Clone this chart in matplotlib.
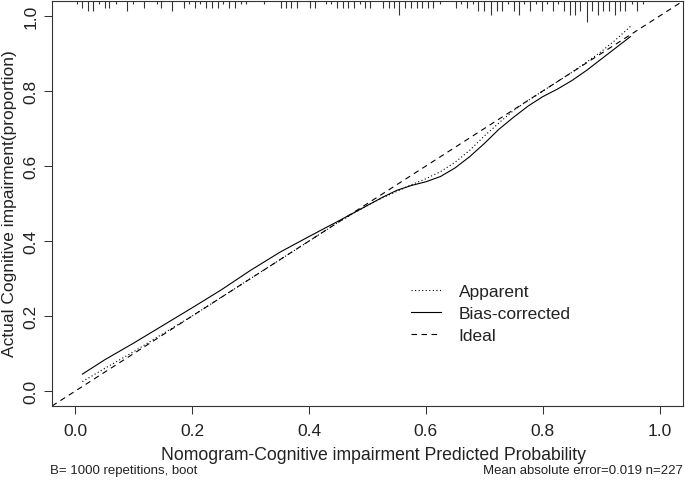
import matplotlib
matplotlib.use("Agg")
import matplotlib.pyplot as plt
import matplotlib.transforms as mtransforms

plt.rcParams['font.family'] = ['Liberation Sans', 'DejaVu Sans']

# ---- data ----
pred_x = [0.012, 0.05, 0.10, 0.15, 0.20, 0.25, 0.30, 0.35, 0.40, 0.45, 0.50,
          0.525, 0.55, 0.575, 0.60, 0.625, 0.65, 0.675, 0.70, 0.725, 0.75, 0.775,
          0.80, 0.825, 0.85, 0.875, 0.90, 0.925, 0.95]
apparent_y = [0.025, 0.060, 0.105, 0.153, 0.200, 0.250, 0.300, 0.350, 0.400, 0.450, 0.495,
              0.515, 0.532, 0.550, 0.566, 0.585, 0.610, 0.642, 0.680, 0.715, 0.748, 0.775,
              0.800, 0.825, 0.850, 0.877, 0.905, 0.937, 0.972]
bias_corrected_y = [0.045, 0.083, 0.128, 0.175, 0.222, 0.270, 0.322, 0.370, 0.412, 0.453, 0.495,
                    0.516, 0.535, 0.548, 0.558, 0.572, 0.595, 0.625, 0.660, 0.698, 0.730, 0.760,
                    0.785, 0.805, 0.828, 0.855, 0.885, 0.915, 0.945]

rug_x = [0.002, 0.011, 0.021, 0.030, 0.041, 0.050, 0.058, 0.069, 0.089, 0.099, 0.117, 0.139,
         0.146, 0.165, 0.186, 0.194, 0.205, 0.214, 0.224, 0.233, 0.244, 0.253, 0.263, 0.273,
         0.284, 0.292,
         0.322, 0.352, 0.361, 0.369, 0.379, 0.401, 0.410, 0.429, 0.438, 0.448, 0.458, 0.467,
         0.477, 0.487, 0.496, 0.505, 0.526, 0.536, 0.545, 0.554, 0.564, 0.574, 0.584, 0.594,
         0.603, 0.612, 0.624, 0.651, 0.660, 0.670,
         0.680, 0.689, 0.699, 0.711, 0.721, 0.730, 0.740, 0.750, 0.760, 0.768, 0.778, 0.788,
         0.798, 0.807, 0.818, 0.826, 0.836, 0.846, 0.856, 0.864, 0.875, 0.884, 0.894, 0.903,
         0.913, 0.923, 0.932, 0.941, 0.952, 0.961, 0.971]
rug_freq = [1, 2, 3, 3, 1, 2, 2, 1, 3, 1, 2, 1,
            2, 3, 2, 1, 2, 1, 2, 2, 2, 1, 2, 2,
            1, 1,
            1, 2, 2, 2, 2, 2, 2, 1, 1, 2, 2, 2,
            2, 1, 2, 2, 2, 2, 2, 4, 2, 2, 2, 2,
            2, 2, 1, 2, 1, 2,
            1, 3, 3, 4, 3, 3, 1, 3, 4, 1, 3, 1,
            3, 1, 3, 1, 3, 4, 4, 3, 6, 3, 4, 3,
            3, 4, 3, 3, 1, 3, 1]

ticks = [0.0, 0.2, 0.4, 0.6, 0.8, 1.0]
tick_labels = ["0.0", "0.2", "0.4", "0.6", "0.8", "1.0"]
legend_labels = ["Apparent", "Bias-corrected", "Ideal"]

W, H = 685, 481
fig = plt.figure(figsize=(W / 100, H / 100), dpi=100)
L, R, T, B = 52, 683, 2, 407
ax = fig.add_axes([L / W, 1 - B / H, (R - L) / W, (B - T) / H])

txt = '#222222'
lw = 0.8
ax.plot(pred_x, apparent_y, color='black', lw=lw, linestyle=(0, (1, 2.2)), label=legend_labels[0])
ax.plot(pred_x, bias_corrected_y, color='black', lw=lw, linestyle='-', label=legend_labels[1])
ax.axline((0, 0), (1, 1), color='black', lw=lw, linestyle=(0, (5, 4)), label=legend_labels[2])

trans = mtransforms.blended_transform_factory(ax.transData, ax.transAxes)
ax.vlines(rug_x, [1 - 0.0085 * f for f in rug_freq], 1.0, transform=trans,
          color='#333333', lw=0.8)

ax.set_xlim(-0.04, 1.04)
ax.set_ylim(-0.04, 1.04)
ax.set_xticks(ticks)
ax.set_xticklabels(tick_labels)
ax.set_yticks(ticks)
ax.set_yticklabels(tick_labels, rotation=90, va='center')
ax.tick_params(axis='both', direction='out', length=5.8, width=0.75, colors='#333333',
               labelcolor=txt, labelsize=12.5)
ax.tick_params(axis='x', pad=6.5)
ax.tick_params(axis='y', pad=4)
for s in ax.spines.values():
    s.set_linewidth(0.8)
    s.set_color('#333333')

fig.text(374 / W, 1 - 456 / H, "Nomogram-Cognitive impairment Predicted Probability",
         ha='center', va='center', fontsize=12.7, color=txt)
fig.text(10 / W, 1 - 204 / H, "Actual Cognitive impairment(proportion)",
         ha='center', va='center', rotation=90, fontsize=12.5, color=txt)
fig.text(50 / W, 1 - 471 / H, "B= 1000 repetitions, boot",
         ha='left', va='center', fontsize=9.5, color=txt)
fig.text(683 / W, 1 - 471 / H, "Mean absolute error=0.019 n=227",
         ha='right', va='center', fontsize=9.5, color=txt)

leg = ax.legend(loc='upper left', bbox_to_anchor=(411 / W, 1 - 285 / H),
                bbox_transform=fig.transFigure, frameon=False, fontsize=12.5,
                handlelength=1.7, handletextpad=1.05, labelspacing=0.38, borderpad=0,
                borderaxespad=0)
for t in leg.get_texts():
    t.set_color(txt)

fig.savefig("out.png", dpi=100)
